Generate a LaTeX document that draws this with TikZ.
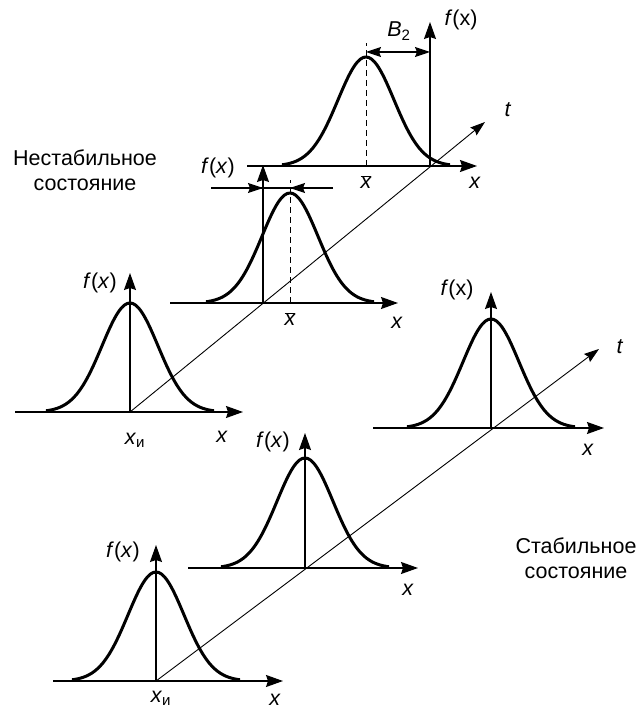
\documentclass[tikz,border=0pt]{standalone}
\usepackage{fontspec}
\setmainfont{Liberation Sans}
\usetikzlibrary{arrows.meta}

\begin{document}
\begin{tikzpicture}[x=1pt,y=1pt,
  axis/.style={line width=1.4pt,-{Stealth[length=17pt,width=12pt,inset=2pt]}},
  taxis/.style={line width=0.9pt,-{Stealth[length=15pt,width=10pt,inset=2pt]}},
  curve/.style={line width=3pt,line join=round},
  dashline/.style={line width=1pt,dash pattern=on 6pt off 4pt},
  dimarrow/.style={line width=1.1pt,-{Stealth[length=15pt,width=10pt,inset=2pt]}},
  lbl/.style={font=\fontsize{21.5}{25}\selectfont,inner sep=0pt}]
  \useasboundingbox (0,0) rectangle (639,710);

  % Origini (nestabil'noe)
  \coordinate (u1) at (130,298);
  \coordinate (u1l) at (15,298);
  \coordinate (u1r) at (243,298);
  \coordinate (u1t) at (130,437);
  \coordinate (u2) at (263,407);
  \coordinate (u2l) at (170,407);
  \coordinate (u2r) at (398,407);
  \coordinate (u2t) at (263,545);
  \coordinate (u3) at (430,544);
  \coordinate (u3l) at (247,544);
  \coordinate (u3r) at (477,544);
  \coordinate (u3t) at (430,688);
  \coordinate (ut) at (485,588);

  % Origini (stabil'noe)
  \coordinate (s1) at (156,29);
  \coordinate (s1l) at (53,29);
  \coordinate (s1r) at (283,29);
  \coordinate (s1t) at (156,165);
  \coordinate (s2) at (305,142);
  \coordinate (s2l) at (188,142);
  \coordinate (s2r) at (418,142);
  \coordinate (s2t) at (305,277);
  \coordinate (s3) at (491,282);
  \coordinate (s3l) at (373,282);
  \coordinate (s3r) at (604,282);
  \coordinate (s3t) at (491,418);
  \coordinate (st) at (599,361);

  % Assi
  \draw[taxis] (u1) -- (ut);
  \draw[taxis] (s1) -- (st);
  \foreach \f in {u1,u2,u3,s1,s2,s3} {
    \draw[axis] (\f l) -- (\f r);
    \draw[axis] (\f) -- (\f t);
  }

  % Curve
  \draw[curve,shift={(u1)}] plot[domain=-84:84,samples=61,smooth] (\x,{109*exp(-(\x)^2/1568)});
  \draw[curve,shift={(u2)}] plot[domain=-84:84,samples=61,smooth] ({\x+27},{110*exp(-(\x)^2/1568)});
  \draw[curve,shift={(u3)}] plot[domain=-84:84,samples=61,smooth] ({\x-64},{109*exp(-(\x)^2/1568)});
  \draw[curve,shift={(s1)}] plot[domain=-84:84,samples=61,smooth] (\x,{109*exp(-(\x)^2/1568)});
  \draw[curve,shift={(s2)}] plot[domain=-84:84,samples=61,smooth] (\x,{110*exp(-(\x)^2/1568)});
  \draw[curve,shift={(s3)}] plot[domain=-84:84,samples=61,smooth] (\x,{109*exp(-(\x)^2/1568)});

  % Medie
  \coordinate (m2) at (290,407);
  \coordinate (m2t) at (290,530);
  \coordinate (m3) at (366,544);
  \coordinate (m3t) at (366,667);
  \draw[dashline] (m2) -- (m2t);
  \draw[dashline] (m3) -- (m3t);

  % Frecce di spostamento
  \coordinate (w1) at (211,522);
  \coordinate (w2) at (333,522);
  \coordinate (wa) at (263,522);
  \coordinate (wb) at (290,522);
  \draw[line width=1.1pt] (w1) -- (w2);
  \draw[dimarrow] (w1) -- (wa);
  \draw[dimarrow] (w2) -- (wb);
  \coordinate (b1) at (366,658);
  \coordinate (b2) at (430,658);
  \draw[dimarrow,{Stealth[length=15pt,width=10pt,inset=2pt]}-{Stealth[length=15pt,width=10pt,inset=2pt]}] (b1) -- (b2);

  % Etichette
  \node[lbl] (fu1) at (100,427) {\textit{f}(\textit{x})};
  \node[lbl] (xi1) at (135,270) {\textit{x}\textsubscript{и}};
  \node[lbl] (xu1) at (222,273) {\textit{x}};
  \node[lbl] (fu2) at (218,542) {\textit{f}(\textit{x})};
  \node[lbl] (xb2) at (290,391) {$\overline{\textit{x}}$};
  \node[lbl] (xu2) at (397,387) {\textit{x}};
  \node[lbl] (fu3) at (461,690) {\textit{f}(x)};
  \node[lbl] (bb) at (399,679) {\textit{B}\textsubscript{2}};
  \node[lbl] (xb3) at (366,528) {$\overline{\textit{x}}$};
  \node[lbl] (xu3) at (475,527) {\textit{x}};
  \node[lbl] (tu) at (508,600) {\textit{t}};
  \node[lbl,align=center] (nest) at (85,540) {Нестабильное\\состояние};

  \node[lbl] (fs3) at (457,420) {\textit{f}(x)};
  \node[lbl] (xs3) at (588,260) {\textit{x}};
  \node[lbl] (ts) at (620,363) {\textit{t}};
  \node[lbl] (fs2) at (273,268) {\textit{f}(\textit{x})};
  \node[lbl] (xs2) at (408,120) {\textit{x}};
  \node[lbl] (fs1) at (123,158) {\textit{f}(\textit{x})};
  \node[lbl] (xi2) at (161,12) {\textit{x}\textsubscript{и}};
  \node[lbl] (xs1) at (275,10) {\textit{x}};
  \node[lbl,align=center] (stab) at (576,152) {Стабильное\\состояние};
\end{tikzpicture}
\end{document}
